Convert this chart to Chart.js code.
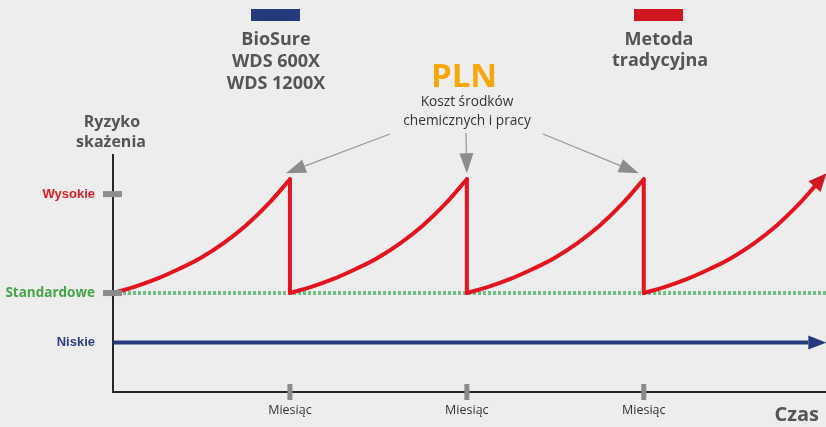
<!DOCTYPE html>
<html>
<head>
<meta charset="utf-8">
<title>Ryzyko skażenia</title>
<script src="https://cdn.jsdelivr.net/npm/chart.js@4.4.1/dist/chart.umd.min.js"></script>
<style>
	html, body { margin: 0; padding: 0; background: #ededed; }
	#risk-chart { display: block; }
</style>
</head>
<body>
<canvas id="risk-chart" width="826" height="427"></canvas>
<script>
// axes
var monthTicks = [1, 2, 3];
var monthLabels = ['Miesiąc', 'Miesiąc', 'Miesiąc'];
var riskTicks = [1, 2, 4];
var riskLabels = ['Niskie', 'Standardowe', 'Wysokie'];
var riskColors = ['#2b3f86', '#45a647', '#d6202a'];

// traditional method: risk grows through the month, drops back after cleaning
var cycleStarts = [0, 1, 2, 3];
var cycleOffsets = [0, 0.125, 0.25, 0.375, 0.5, 0.625, 0.75, 0.875, 1];
var cycleRisk = [2.00, 2.13, 2.29, 2.49, 2.72, 3.01, 3.36, 3.79, 4.30];
// last cycle runs off the right edge
var lastOffsets = [0, 0.125, 0.25, 0.375, 0.5, 0.625, 0.75, 0.875, 0.965];
var lastRisk = [2.00, 2.13, 2.29, 2.49, 2.72, 3.01, 3.36, 3.79, 4.15];

// BioSure stays low; standard level as dotted reference
var biosureX = [0, 3.93];
var biosureRisk = [1, 1];
var standardX = [0, 4.03];
var standardRisk = [2, 2];

var RED = '#e3141f';
var NAVY = '#233a7d';
var GREY = '#8c8c8c';

var ramps = [], drops = [];
for (var i = 0; i < cycleStarts.length; i++) {
	var isLast = i == cycleStarts.length - 1;
	var offs = isLast ? lastOffsets : cycleOffsets;
	var vals = isLast ? lastRisk : cycleRisk;
	if (i > 0) ramps.push({x: cycleStarts[i], y: null});
	for (var j = 0; j < offs.length; j++) {
		ramps.push({x: cycleStarts[i] + offs[j], y: vals[j]});
	}
	if (!isLast) {
		var end = cycleStarts[i] + 1;
		drops.push({x: end, y: vals[vals.length - 1]}, {x: end, y: cycleRisk[0]}, {x: end, y: null});
	}
}
function pairs(xs, ys) {
	var out = [];
	for (var k = 0; k < xs.length; k++) out.push({x: xs[k], y: ys[k]});
	return out;
}

function arrowHead(ctx, bx, by, dx, dy, len, width, color) {
	var d = Math.sqrt(dx * dx + dy * dy);
	var ux = dx / d, uy = dy / d;
	ctx.fillStyle = color;
	ctx.beginPath();
	ctx.moveTo(bx + ux * len, by + uy * len);
	ctx.lineTo(bx - uy * width / 2, by + ux * width / 2);
	ctx.lineTo(bx + uy * width / 2, by - ux * width / 2);
	ctx.closePath();
	ctx.fill();
}

function lastTwo(meta) {
	var pts = meta.data.filter(function(p) { return !p.skip; });
	return [pts[pts.length - 2], pts[pts.length - 1]];
}

function label(ctx, str, x, y, font, color, align) {
	ctx.font = font;
	ctx.fillStyle = color;
	ctx.textAlign = align || 'center';
	ctx.textBaseline = 'alphabetic';
	ctx.fillText(str, x, y);
}

var decorPlugin = {
	id: 'decor',
	beforeDraw: function(chart) {
		var ctx = chart.ctx;
		ctx.save();
		ctx.fillStyle = '#ededed';
		ctx.fillRect(0, 0, chart.width, chart.height);
		ctx.restore();
	},
	afterDatasetsDraw: function(chart) {
		var ctx = chart.ctx, xs = chart.scales.x, ys = chart.scales.y;
		ctx.save();
		// arrow heads at the end of the red and navy lines
		var r = lastTwo(chart.getDatasetMeta(0));
		arrowHead(ctx, r[1].x, r[1].y, r[1].x - r[0].x, r[1].y - r[0].y, 18, 16, '#d0161e');
		var b = lastTwo(chart.getDatasetMeta(2));
		arrowHead(ctx, b[1].x, b[1].y, 1, 0, 18, 14, NAVY);

		// tick marks
		ctx.fillStyle = GREY;
		[2, 4].forEach(function(v) {
			var py = ys.getPixelForValue(v);
			ctx.fillRect(xs.left - 10, py - 3, 19, 6);
		});
		monthTicks.forEach(function(v) {
			var px = xs.getPixelForValue(v);
			ctx.fillRect(px - 2.5, ys.bottom - 8, 5, 16);
		});

		// cost arrows pointing at the peaks
		var starts = [[390, 134], [466, 133], [543, 134]];
		var shift = [-4, 0, -5];
		monthTicks.forEach(function(v, k) {
			var tx = xs.getPixelForValue(v) + shift[k];
			var ty = ys.getPixelForValue(cycleRisk[cycleRisk.length - 1]) - 6;
			var sx = starts[k][0], sy = starts[k][1];
			var dx = tx - sx, dy = ty - sy, d = Math.sqrt(dx * dx + dy * dy);
			var bx = tx - dx / d * 20, by = ty - dy / d * 20;
			ctx.strokeStyle = '#9a9a9a';
			ctx.lineWidth = 1.3;
			ctx.beginPath();
			ctx.moveTo(sx, sy);
			ctx.lineTo(bx, by);
			ctx.stroke();
			arrowHead(ctx, bx, by, dx, dy, 20, 14, GREY);
		});
		ctx.restore();
	},
	afterDraw: function(chart) {
		var ctx = chart.ctx;
		ctx.save();
		// legend swatches
		ctx.fillStyle = NAVY;
		ctx.fillRect(251, 9, 49, 12);
		ctx.fillStyle = '#d0161e';
		ctx.fillRect(634, 9, 49, 12);

		var bold = '700 18px "Open Sans"';
		label(ctx, 'BioSure', 276, 45, bold, '#555555');
		label(ctx, 'WDS 600X', 276, 67, bold, '#555555');
		label(ctx, 'WDS 1200X', 276, 88.5, bold, '#555555');
		label(ctx, 'Metoda', 659, 45, bold, '#555555');
		label(ctx, 'tradycyjna', 660, 66, bold, '#555555');

		label(ctx, 'PLN', 464, 87, '700 33px "Open Sans"', '#f5a70c');
		label(ctx, 'Koszt środków', 467, 106, '400 13.7px "Open Sans"', '#333333');
		label(ctx, 'chemicznych i pracy', 467, 124.5, '400 13.7px "Open Sans"', '#333333');

		label(ctx, 'Ryzyko', 112, 126.5, '700 16px "Open Sans"', '#555555');
		label(ctx, 'skażenia', 111, 146.5, '700 16px "Open Sans"', '#555555');
		label(ctx, 'Czas', 819, 421, '700 20px "Open Sans"', '#555555', 'right');
		ctx.restore();
	}
};

var ctx = document.getElementById('risk-chart').getContext('2d');
var riskChart = new Chart(ctx, {
	type: 'line',
	data: {
		datasets: [{
			label: 'Metoda tradycyjna',
			data: ramps,
			borderColor: RED,
			borderWidth: 4,
			borderCapStyle: 'round',
			tension: 0.4,
			pointRadius: 0
		}, {
			label: 'Metoda tradycyjna (czyszczenie)',
			data: drops,
			borderColor: RED,
			borderWidth: 4,
			borderCapStyle: 'round',
			tension: 0,
			pointRadius: 0
		}, {
			label: 'BioSure WDS 600X / WDS 1200X',
			data: pairs(biosureX, biosureRisk),
			borderColor: NAVY,
			borderWidth: 4,
			pointRadius: 0
		}, {
			label: 'Standardowe',
			data: pairs(standardX, standardRisk),
			borderColor: '#72c085',
			borderWidth: 4,
			borderDash: [3, 2],
			pointRadius: 0
		}]
	},
	options: {
		responsive: false,
		animation: false,
		events: [],
		layout: {padding: {top: 155, left: 0, right: 0, bottom: 0}},
		plugins: {
			legend: {display: false},
			tooltip: {enabled: false}
		},
		scales: {
			x: {
				type: 'linear',
				min: 0,
				max: 4.03,
				afterFit: function(s) { s.height = 35; },
				afterBuildTicks: function(s) {
					s.ticks = monthTicks.map(function(v) { return {value: v}; });
				},
				grid: {display: false, drawTicks: false},
				border: {display: true, color: '#262626', width: 2},
				ticks: {
					autoSkip: false,
					maxRotation: 0,
					padding: 11,
					color: '#333333',
					font: {family: '"Open Sans"', size: 12.5},
					callback: function(v) {
						var k = monthTicks.indexOf(v);
						return k >= 0 ? monthLabels[k] : '';
					}
				}
			},
			y: {
				type: 'linear',
				min: 0,
				max: 4.79,
				afterFit: function(s) { s.width = 113; },
				afterBuildTicks: function(s) {
					s.ticks = riskTicks.map(function(v) { return {value: v}; });
				},
				grid: {display: false, drawTicks: false},
				border: {display: true, color: '#262626', width: 2},
				ticks: {
					padding: 18,
					color: function(c) {
						var k = riskTicks.indexOf(c.tick.value);
						return riskColors[k];
					},
					font: function(c) {
						if (c.tick && c.tick.value == 2) return {family: '"Open Sans"', size: 13.5, weight: 'bold'};
						return {family: '"Liberation Sans"', size: 13, weight: 'bold'};
					},
					callback: function(v) {
						var k = riskTicks.indexOf(v);
						return k >= 0 ? riskLabels[k] : '';
					}
				}
			}
		}
	},
	plugins: [decorPlugin]
});
</script>
</body>
</html>
